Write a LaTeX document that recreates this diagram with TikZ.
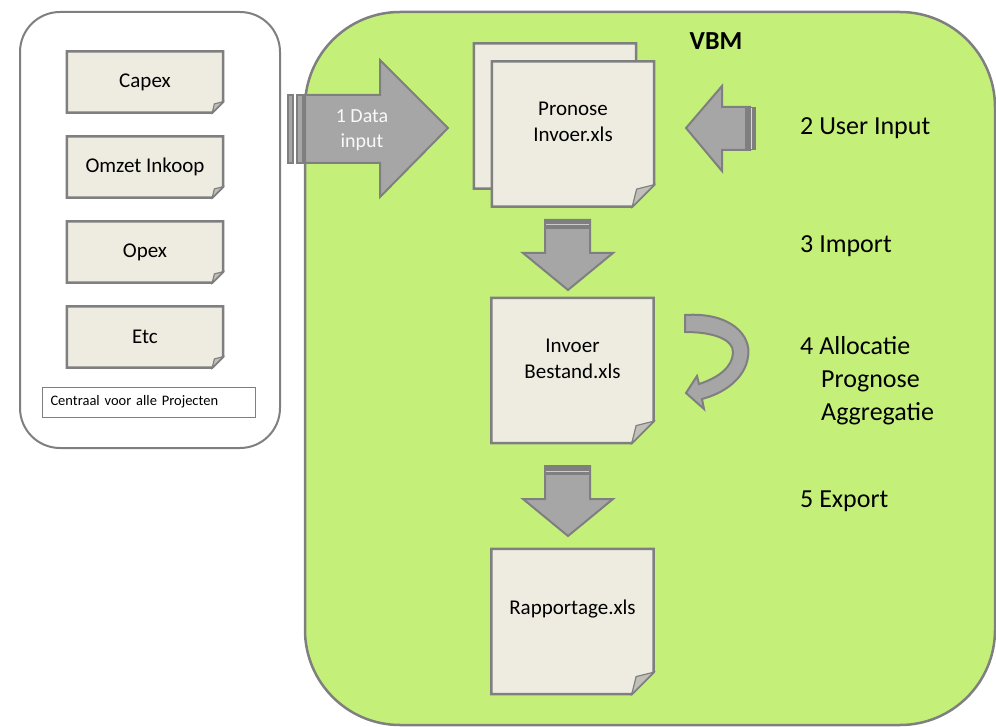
\documentclass[tikz,border=0pt]{standalone}
\usepackage{fontspec}
\setmainfont{Carlito}
\usetikzlibrary{positioning}
\pgfdeclarelayer{bg}
\pgfsetlayers{bg,main}

\definecolor{vbmgreen}{RGB}{196,240,122}
\definecolor{pagefill}{RGB}{238,236,225}
\definecolor{edgegray}{RGB}{127,127,127}
\definecolor{arrowgray}{RGB}{166,166,166}
\definecolor{foldgray}{RGB}{192,192,185}

\tikzset{
  sheet/.style={minimum width=162pt, minimum height=145pt, inner sep=0pt},
  smallsheet/.style={minimum width=156pt, minimum height=61pt, inner sep=0pt, font=\fontsize{21}{26}\selectfont},
  sheettext/.style={align=center, font=\fontsize{21}{26}\selectfont},
  blockarrow/.style={fill=arrowgray, draw=edgegray, line width=2pt, line join=miter},
  stepnote/.style={anchor=base west, inner sep=0pt, font=\fontsize{26}{33}\selectfont},
}

% outline of a sheet with a folded corner, drawn behind node #1
\newcommand{\sheetoutline}[2]{%
\begin{pgfonlayer}{bg}
\filldraw[fill=pagefill, draw=edgegray, line width=2.5pt] (#1.north west) -- (#1.north east) -- ([yshift=#2]#1.south east) -- ([xshift=-#2]#1.south east) -- (#1.south west) -- cycle;
\filldraw[fill=foldgray, draw=edgegray, line width=1.2pt] ([yshift=#2]#1.south east) -- ([xshift=-0.8*#2, yshift=0.8*#2]#1.south east) -- ([xshift=-#2]#1.south east) -- cycle;
\end{pgfonlayer}}

\begin{document}
\begin{tikzpicture}[x=1pt,y=-1pt]
\useasboundingbox (0,0) rectangle (996,727);

\begin{pgfonlayer}{bg}
\draw[fill=white, draw=edgegray, line width=2pt, rounded corners=40pt] (20,12) rectangle (280,448);
\draw[fill=vbmgreen, draw=edgegray, line width=2.5pt, rounded corners=95pt] (305,12) rectangle (995,725);
\end{pgfonlayer}

% left column
\foreach \y/\name/\txt in {82/capex/Capex,167/omzet/Omzet Inkoop,252/opex/Opex,337/etc/Etc} {
\node[smallsheet] (\name) at (145,\y) {\txt};
\sheetoutline{\name}{11pt}
}
\node[draw=edgegray, line width=1pt, fill=white, text width=197pt, minimum height=30pt, inner xsep=8pt, align=left, font=\fontsize{14.5}{16}\selectfont] (central) at (149,402) {Centraal voor alle Projecten};

% sheets in VBM
\node[sheet] (pronoseback) at (555,116) {};
\sheetoutline{pronoseback}{22pt}
\node[sheet] (pronose) at (573,134) {};
\sheetoutline{pronose}{22pt}
\node[sheettext] (pronosetext) at ([yshift=12pt]pronose.center) {Pronose\\Invoer.xls};

\node[sheet] (invoer) at (572.5,370.5) {};
\sheetoutline{invoer}{22pt}
\node[sheettext] (invoertext) at ([yshift=12pt]invoer.center) {Invoer\\Bestand.xls};

\node[sheet] (rapport) at (572.5,621.5) {};
\sheetoutline{rapport}{22pt}
\node[sheettext] (rapporttext) at ([yshift=12pt]rapport.center) {Rapportage.xls};

\node[anchor=base, font=\bfseries\fontsize{26}{30}\selectfont] (vbm) at (716,50) {VBM};

% 1 data input
\draw[blockarrow, line width=1.5pt] (288,95) rectangle (293,163);
\draw[blockarrow, line width=1.5pt] (297,95) rectangle (303,163);
\draw[blockarrow] (305,95) -- (380,95) -- (380,60) -- (448,128) -- (380,197) -- (380,163) -- (305,163) -- cycle;
\node[align=center, text=white!95!gray, font=\fontsize{20}{25}\selectfont] (datainput) at (362,130) {1 Data\\input};

% 2 user input
\draw[blockarrow] (686,128) -- (722,86) -- (722,107) -- (750,107) -- (750,150) -- (722,150) -- (722,171) -- cycle;
\fill[edgegray] (745,107) rectangle (756,150);
\draw[white!70!gray, line width=1pt] (751,108) -- (751,149);

% 3 import, 5 export
\foreach \y in {220,466} {
\draw[blockarrow] (545,\y) -- (590,\y) -- (590,\y+33) -- (613,\y+33) -- (568,\y+70) -- (523,\y+33) -- (545,\y+33) -- cycle;
\fill[edgegray] (545,\y) rectangle (590,\y+9);
\draw[white!60!gray, line width=1pt] (546,\y+5) -- (589,\y+5);
}

% 4 curved arrow
\draw[blockarrow] (685,315) .. controls (730,312) and (752,335) .. (748,357) .. controls (745,378) and (725,393) .. (702,399) -- (704,409) -- (686,393) -- (697,376) -- (699,384) .. controls (718,378) and (733,367) .. (733,352) .. controls (733,340) and (715,332) .. (685,332) -- cycle;

% steps
\node[stepnote] (userinput) at (800,135) {2 User Input};
\node[stepnote] (import) at (800,253) {3 Import};
\node[stepnote] (allocatie) at (800,354) {4 Allocatie};
\node[stepnote] (prognose) at (821,387) {Prognose};
\node[stepnote] (aggregatie) at (821,420) {Aggregatie};
\node[stepnote] (export) at (800,507) {5 Export};
\end{tikzpicture}
\end{document}
